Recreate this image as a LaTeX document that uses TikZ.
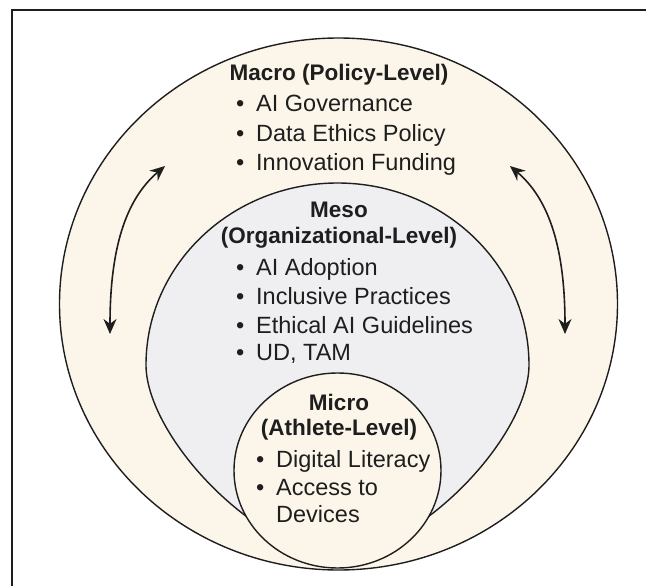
\documentclass[tikz,border=0pt]{standalone}
\usepackage{fontspec}
\setmainfont{Liberation Sans}
\usepackage{xcolor}
\usetikzlibrary{arrows.meta}

\definecolor{cream}{HTML}{FCF6EA}
\definecolor{mesogray}{HTML}{EFEFF1}
\definecolor{ink}{HTML}{1E1E1E}
\newcommand{\bul}{\makebox[20pt][l]{\textbullet}}

\begin{document}
\begin{tikzpicture}[x=1pt,y=-1pt,
  level/.style={draw=ink,line width=1.4pt},
  head/.style={font=\fontsize{22.5}{26}\selectfont\bfseries,text=ink,inner sep=0pt,anchor=base},
  item/.style={font=\fontsize{23.5}{26}\selectfont,text=ink,inner sep=0pt,anchor=base west},
  cycle/.style={{Stealth[length=15pt,width=13pt]}-{Stealth[length=15pt,width=13pt]},line width=1.6pt,draw=ink}]
  \useasboundingbox (0,0) rectangle (646,586);
  % frame
  \draw[line width=2pt,ink] (12,586) -- (12,10) -- (646,10);

  % macro, meso and micro levels
  \filldraw[level,fill=cream] (338.5,304) ellipse [x radius=279,y radius=266];
  \filldraw[level,fill=mesogray] (146,365) arc [start angle=180,end angle=360,x radius=191.5,y radius=182]
    .. controls (529,430) and (435,540) .. (337.5,560)
    .. controls (240,540) and (146,430) .. cycle;
  \filldraw[level,fill=cream] (337.5,470.5) ellipse [x radius=103.5,y radius=97.5];

  % feedback arrows
  \coordinate (lb) at (110,334);
  \coordinate (lt) at (165,166);
  \coordinate (rb) at (565,334);
  \coordinate (rt) at (510,166);
  \draw[cycle] (lb) .. controls (110,250) and (125,200) .. (lt);
  \draw[cycle] (rb) .. controls (565,250) and (550,200) .. (rt);

  % macro
  \node[head] (macro) at (339,81) {Macro (Policy-Level)};
  \node[item] (macro1) at (236,112) {\bul AI Governance};
  \node[item] (macro2) at (236,142) {\bul Data Ethics Policy};
  \node[item] (macro3) at (236,171) {\bul Innovation Funding};

  % meso
  \node[head] (meso)      at (339,217) {Meso};
  \node[head] (mesolevel) at (339,243) {(Organizational-Level)};
  \node[item] (meso1) at (236,275) {\bul AI Adoption};
  \node[item] (meso2) at (236,304) {\bul Inclusive Practices};
  \node[item] (meso3) at (236,333) {\bul Ethical AI Guidelines};
  \node[item] (meso4) at (236,360) {\bul UD, TAM};

  % micro
  \node[head] (micro)      at (339,410) {Micro};
  \node[head] (microlevel) at (339,435) {(Athlete-Level)};
  \node[item] (micro1) at (256,467) {\bul Digital Literacy};
  \node[item] (micro2) at (256,495) {\bul Access to};
  \node[item] (micro3) at (276,522) {Devices};
\end{tikzpicture}
\end{document}
